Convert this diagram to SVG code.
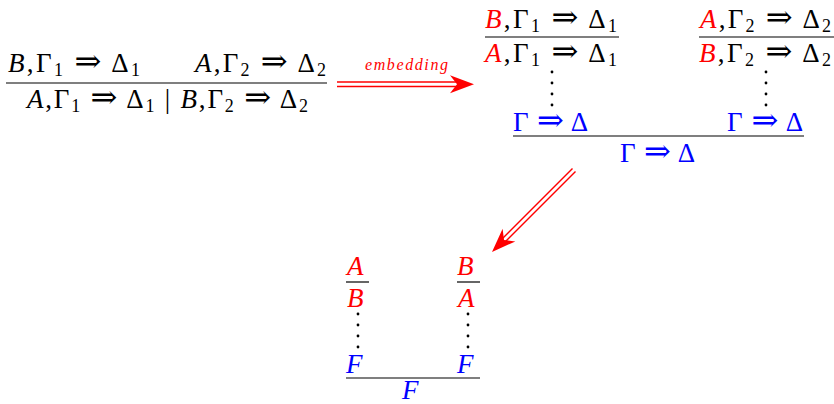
<svg xmlns="http://www.w3.org/2000/svg" width="834" height="404" viewBox="0 0 834 404">
<style>
text{font-family:"Liberation Serif","DejaVu Serif",serif;font-size:27px;fill:#000}
.i{font-style:italic}
.s{font-size:18px}
.a{font-size:32px}
.r{fill:#ff0000}
.b{fill:#0000ff}
.rule{stroke:#000;stroke-width:1.2}
.arr{stroke:#ff0000;stroke-width:1.4;fill:none}
.lbl{font-size:16px;font-style:italic;fill:#ff0000}
</style>
<defs>
<path id="head" d="M0,0 L-24,-9 L-17,0 L-24,9 Z" fill="#ff0000"/>
<g id="dots"><circle cx="0" cy="0" r="1.4"/><circle cx="0" cy="11" r="1.4"/><circle cx="0" cy="22" r="1.4"/><circle cx="0" cy="33" r="1.4"/></g>
</defs>

<g id="left-rule">
<text x="8" y="72" textLength="132"><tspan class="i">B</tspan>,Γ<tspan class="s" dy="4">1</tspan><tspan dy="-4"> <tspan class="a">⇒</tspan> Δ</tspan><tspan class="s" dy="4">1</tspan></text>
<text x="195" y="72" textLength="131"><tspan class="i">A</tspan>,Γ<tspan class="s" dy="4">2</tspan><tspan dy="-4"> <tspan class="a">⇒</tspan> Δ</tspan><tspan class="s" dy="4">2</tspan></text>
<line class="rule" x1="6" y1="83" x2="327" y2="83"/>
<text x="27" y="108" textLength="281"><tspan class="i">A</tspan>,Γ<tspan class="s" dy="4">1</tspan><tspan dy="-4"> <tspan class="a">⇒</tspan> Δ</tspan><tspan class="s" dy="4">1</tspan><tspan dy="-4"> | </tspan><tspan class="i">B</tspan>,Γ<tspan class="s" dy="4">2</tspan><tspan dy="-4"> <tspan class="a">⇒</tspan> Δ</tspan><tspan class="s" dy="4">2</tspan></text>
</g>

<g id="right-tree">
<text x="485" y="28" textLength="132"><tspan class="i r">B</tspan>,Γ<tspan class="s" dy="4">1</tspan><tspan dy="-4"> <tspan class="a">⇒</tspan> Δ</tspan><tspan class="s" dy="4">1</tspan></text>
<line class="rule" x1="485" y1="37" x2="619" y2="37"/>
<text x="485" y="62" textLength="132"><tspan class="i r">A</tspan>,Γ<tspan class="s" dy="4">1</tspan><tspan dy="-4"> <tspan class="a">⇒</tspan> Δ</tspan><tspan class="s" dy="4">1</tspan></text>
<use href="#dots" x="552" y="72"/>
<text x="700" y="28" textLength="131"><tspan class="i r">A</tspan>,Γ<tspan class="s" dy="4">2</tspan><tspan dy="-4"> <tspan class="a">⇒</tspan> Δ</tspan><tspan class="s" dy="4">2</tspan></text>
<line class="rule" x1="699" y1="37" x2="834" y2="37"/>
<text x="699" y="62" textLength="132"><tspan class="i r">B</tspan>,Γ<tspan class="s" dy="4">2</tspan><tspan dy="-4"> <tspan class="a">⇒</tspan> Δ</tspan><tspan class="s" dy="4">2</tspan></text>
<use href="#dots" x="766" y="72"/>
<text class="b" x="513" y="131" textLength="75">Γ <tspan class="a">⇒</tspan> Δ</text>
<text class="b" x="727" y="131" textLength="76">Γ <tspan class="a">⇒</tspan> Δ</text>
<line class="rule" x1="513" y1="136" x2="804" y2="136"/>
<text class="b" x="620" y="162" textLength="75">Γ <tspan class="a">⇒</tspan> Δ</text>
</g>

<g id="bottom-tree">
<text class="i r" x="347" y="275">A</text>
<line class="rule" x1="346" y1="282" x2="369" y2="282"/>
<text class="i r" x="347" y="307">B</text>
<use href="#dots" x="358" y="314"/>
<text class="i b" x="346" y="373">F</text>
<text class="i r" x="457" y="275">B</text>
<line class="rule" x1="457" y1="282" x2="480" y2="282"/>
<text class="i r" x="458" y="307">A</text>
<use href="#dots" x="468" y="314"/>
<text class="i b" x="457" y="373">F</text>
<line class="rule" x1="346" y1="378" x2="480" y2="378"/>
<text class="i b" x="402" y="399">F</text>
</g>

<g id="connectors">
<g id="embed-arrow">
<line class="arr" x1="337" y1="82" x2="462" y2="82"/>
<line class="arr" x1="337" y1="86.5" x2="462" y2="86.5"/>
<use href="#head" transform="translate(474,84.3)"/>
<text class="lbl" x="365" y="70" textLength="83">embedding</text>
</g>
<g id="diag-arrow">
<line class="arr" x1="572.5" y1="168.5" x2="499" y2="242"/>
<line class="arr" x1="575.5" y1="171.5" x2="502" y2="245"/>
<use href="#head" transform="translate(492,252) rotate(135)"/>
</g>
</g>
</svg>
